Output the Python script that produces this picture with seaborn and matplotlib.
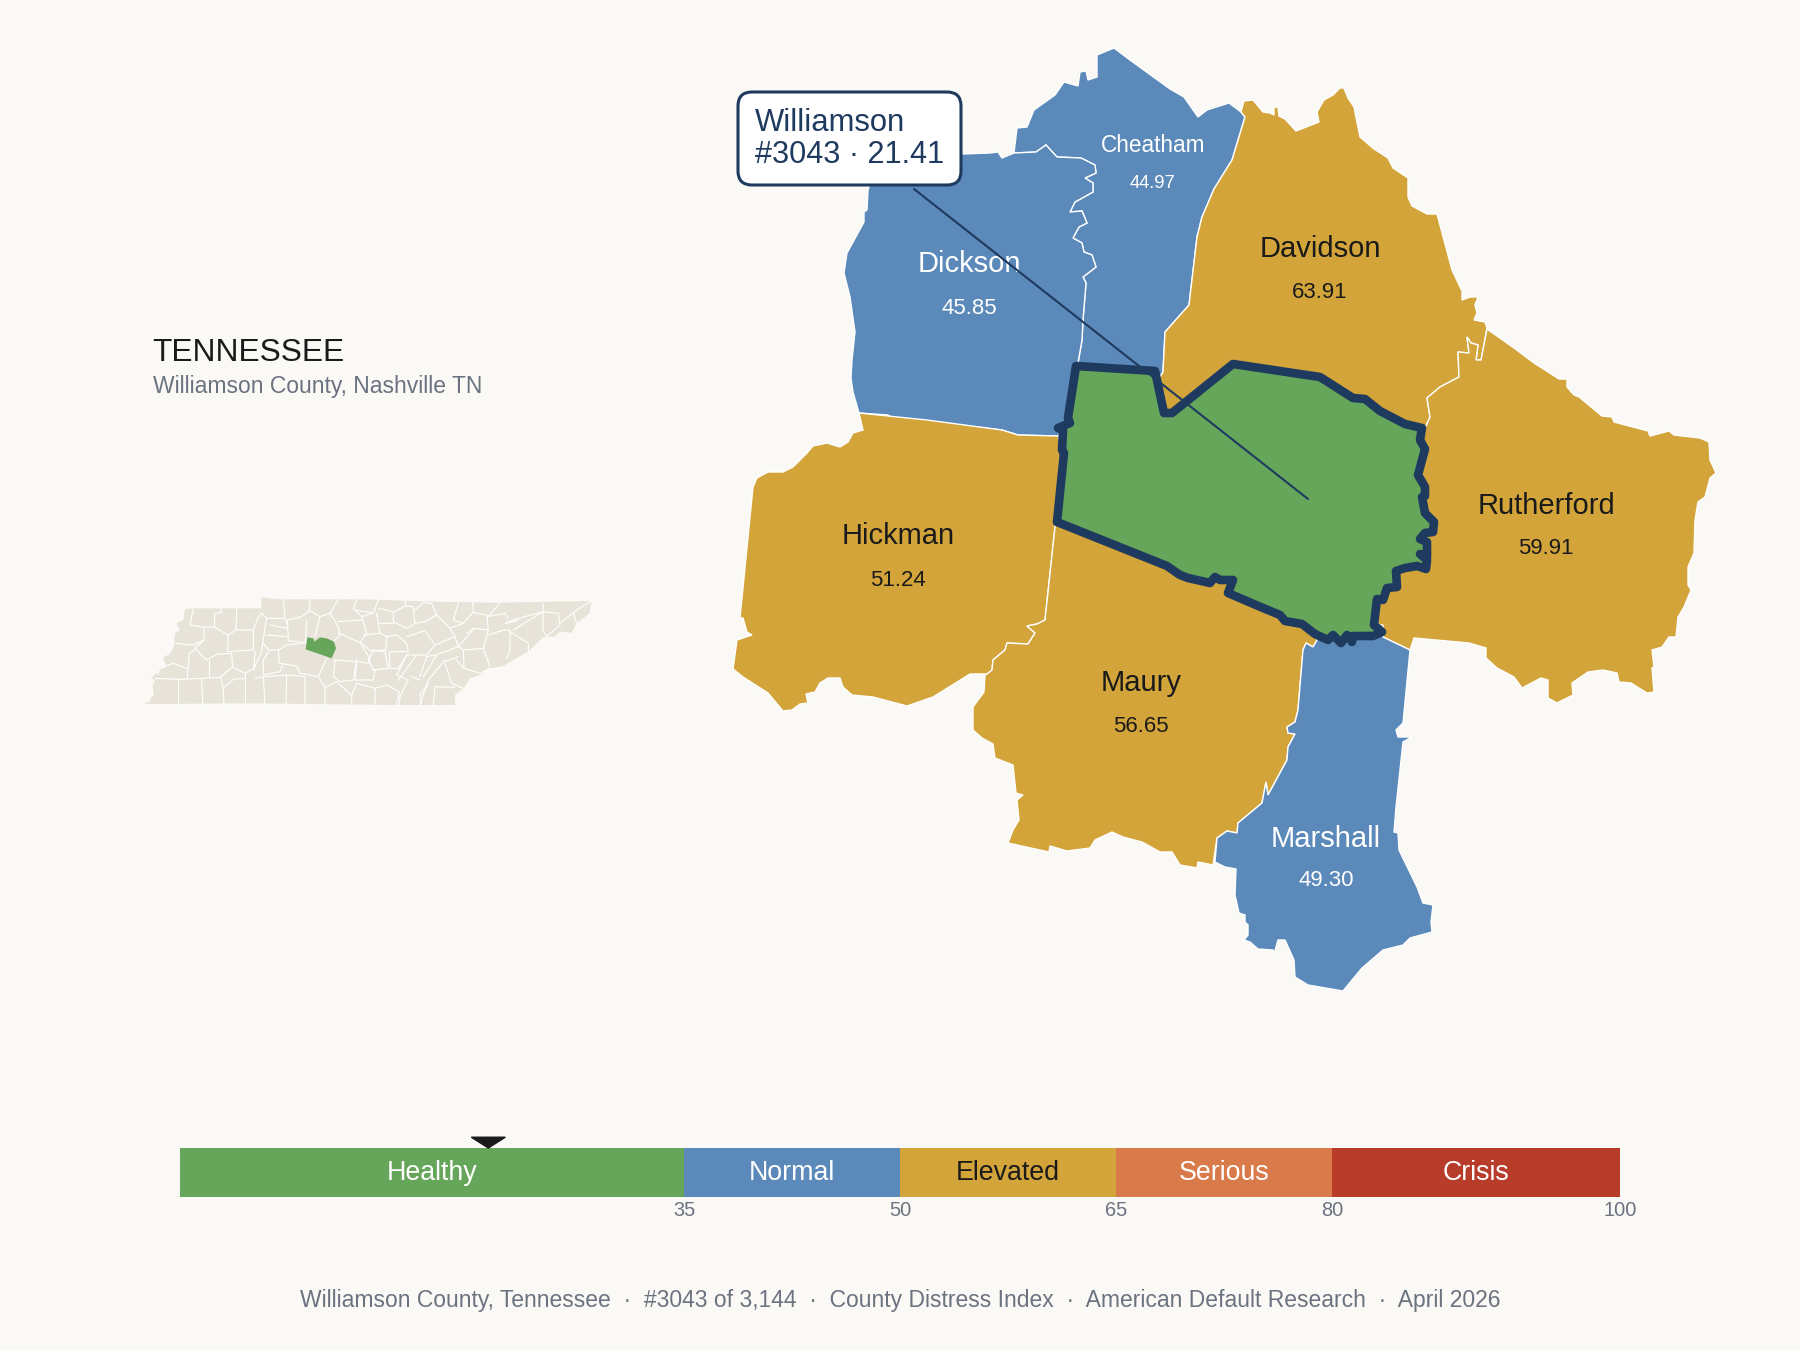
import matplotlib
matplotlib.use("Agg")
import matplotlib.pyplot as plt
from matplotlib.patches import FancyBboxPatch
import pandas as pd
import seaborn as sns

BG = "#FAF9F6"; NAVY = "#1E3A5F"; DARK = "#1A1A1A"; GRAY = "#6B7280"
GREEN = "#66A65A"; BLUE = "#5B89B9"; GOLD = "#D2A43A"; ORANGE = "#D97A4A"; RED = "#B83C2A"
LAND = "#E8E3D8"

sns.set_theme(style="white")
plt.rcParams["font.family"] = ["Liberation Sans", "DejaVu Sans"]

score = 21.41
county_names = ["Cheatham", "Dickson", "Davidson", "Hickman", "Rutherford", "Maury", "Marshall"]
county_values = [44.97, 45.85, 63.91, 51.24, 59.91, 56.65, 49.30]
county_colors = [BLUE, BLUE, GOLD, GOLD, GOLD, GOLD, BLUE]
band_names = ["Healthy", "Normal", "Elevated", "Serious", "Crisis"]
band_upper = [35, 50, 65, 80, 100]
band_colors = [GREEN, BLUE, GOLD, ORANGE, RED]
band_text = ["white", "white", DARK, "white", "white"]
band_ticks = [35, 50, 65, 80, 100]
footer = "Williamson County, Tennessee  ·  #3043 of 3,144  ·  County Distress Index  ·  American Default Research  ·  April 2026"

cheatham = [(1014,153),(1017,128),(1027,127),(1034,110),(1055,95),(1064,82),(1078,86),(1080,72),(1086,71),(1088,80),(1097,77),(1097,55),(1114,48),(1130,60),(1170,89),(1184,97),(1198,117),(1207,110),(1229,103),(1241,112),(1245,117),(1232,160),(1214,189),(1202,217),(1197,237),(1189,305),(1165,332),(1163,372),(1155,385),(1085,385),(1078,363),(1082,340),(1083,320),(1086,283),(1083,277),(1096,267),(1092,255),(1084,252),(1082,243),(1073,238),(1079,227),(1087,223),(1082,211),(1070,212),(1075,202),(1093,192),(1093,183),(1085,178),(1096,173),(1095,165),(1081,158),(1057,157),(1046,145),(1036,152)]
dickson = [(1014,153),(1002,158),(998,152),(990,153),(962,154),(880,150),(868,190),(867,210),(864,212),(864,222),(847,253),(844,273),(850,297),(855,332),(852,360),(851,378),(853,392),(859,413),(888,415),(891,417),(1002,430),(1018,435),(1058,436),(1085,385),(1078,363),(1082,340),(1083,320),(1086,283),(1083,277),(1096,267),(1092,255),(1084,252),(1082,243),(1073,238),(1079,227),(1087,223),(1082,211),(1070,212),(1075,202),(1093,192),(1093,183),(1085,178),(1096,173),(1095,165),(1081,158),(1057,157),(1046,145),(1036,152)]
davidson = [(1245,117),(1241,112),(1244,101),(1253,100),(1263,112),(1270,113),(1274,115),(1274,107),(1278,107),(1279,116),(1285,119),(1296,131),(1319,122),(1317,112),(1324,100),(1333,95),(1340,88),(1344,88),(1348,98),(1354,107),(1360,137),(1374,149),(1388,158),(1393,168),(1408,178),(1408,197),(1412,206),(1427,214),(1437,214),(1452,270),(1462,291),(1462,300),(1470,297),(1478,297),(1475,305),(1477,313),(1474,320),(1485,322),(1487,328),(1483,350),(1481,360),(1476,360),(1478,345),(1471,343),(1467,337),(1469,353),(1458,352),(1459,377),(1440,387),(1427,398),(1430,417),(1426,426),(1405,440),(1233,400),(1172,430),(1155,385),(1163,372),(1165,332),(1189,305),(1197,237),(1202,217),(1214,189),(1232,160)]
hickman = [(1058,436),(1018,435),(1002,430),(927,420),(859,413),(863,430),(853,433),(848,442),(840,447),(827,443),(813,446),(807,453),(793,467),(783,472),(768,472),(757,478),(753,487),(740,618),(743,618),(747,632),(752,635),(737,640),(733,669),(743,677),(768,693),(783,711),(792,710),(800,704),(808,703),(806,694),(815,692),(820,683),(828,678),(840,678),(843,687),(852,695),(873,697),(907,706),(933,697),(970,674),(987,674),(992,670),(993,660),(1005,650),(1007,643),(1028,644),(1035,633),(1027,626),(1037,624),(1045,620),(1055,527),(1075,500)]
rutherford = [(1487,329),(1514,348),(1534,363),(1559,379),(1567,379),(1567,387),(1574,395),(1579,397),(1602,416),(1612,417),(1614,422),(1648,431),(1650,436),(1669,431),(1674,435),(1700,438),(1709,442),(1710,460),(1716,473),(1710,478),(1705,497),(1698,502),(1695,520),(1694,553),(1688,567),(1688,585),(1691,590),(1684,607),(1678,617),(1676,637),(1669,637),(1662,647),(1652,650),(1654,667),(1652,668),(1654,692),(1647,693),(1631,683),(1619,682),(1617,673),(1603,670),(1588,672),(1572,683),(1573,695),(1557,703),(1548,698),(1548,680),(1541,678),(1522,688),(1514,677),(1497,668),(1486,658),(1486,648),(1469,643),(1414,638),(1410,650),(1383,637),(1370,600),(1400,500),(1405,440),(1426,426),(1430,417),(1427,398),(1440,387),(1459,377),(1458,352),(1469,353),(1467,337),(1471,343),(1478,345),(1476,360),(1481,360),(1483,350)]
maury = [(1057,522),(1100,500),(1300,560),(1320,630),(1317,640),(1313,647),(1306,643),(1303,650),(1298,710),(1295,722),(1287,727),(1288,733),(1295,734),(1288,747),(1287,760),(1268,795),(1266,782),(1262,803),(1238,823),(1237,833),(1227,831),(1217,838),(1213,865),(1198,862),(1197,868),(1180,865),(1172,852),(1160,852),(1142,842),(1123,837),(1112,832),(1095,840),(1090,848),(1067,851),(1050,846),(1049,852),(1008,843),(1013,830),(1019,820),(1017,800),(1023,795),(1016,793),(1013,765),(995,758),(993,744),(982,738),(973,730),(973,707),(984,692),(985,675),(987,674),(992,670),(993,660),(1005,650),(1007,643),(1028,644),(1035,633),(1027,626),(1037,624),(1045,620),(1055,527)]
marshall = [(1317,640),(1315,625),(1383,625),(1383,637),(1410,650),(1403,723),(1396,730),(1398,737),(1412,737),(1403,742),(1396,807),(1394,832),(1398,833),(1399,850),(1417,887),(1423,903),(1433,905),(1431,922),(1432,932),(1410,938),(1403,945),(1383,950),(1362,968),(1343,991),(1308,985),(1295,977),(1294,960),(1285,940),(1278,940),(1274,954),(1273,950),(1258,949),(1250,942),(1244,940),(1248,935),(1248,925),(1245,922),(1245,915),(1239,913),(1235,895),(1236,869),(1225,867),(1215,862),(1217,838),(1227,831),(1237,833),(1238,823),(1262,803),(1266,782),(1268,795),(1287,760),(1288,747),(1295,734),(1288,733),(1287,727),(1295,722),(1298,710),(1303,650),(1306,643),(1313,647)]
williamson = [(1076,366),(1155,371),(1164,413),(1172,413),(1233,364),(1320,377),(1353,398),(1365,399),(1380,411),(1405,424),(1422,428),(1420,440),(1425,449),(1418,475),(1425,487),(1425,496),(1422,497),(1425,513),(1434,522),(1433,532),(1425,533),(1420,539),(1427,542),(1427,557),(1420,554),(1427,560),(1426,569),(1417,566),(1405,568),(1396,571),(1397,587),(1387,588),(1383,600),(1377,599),(1374,625),(1382,632),(1373,636),(1353,636),(1352,642),(1347,635),(1341,643),(1333,635),(1328,640),(1315,634),(1302,624),(1285,621),(1280,615),(1263,608),(1228,593),(1233,580),(1220,580),(1215,577),(1210,583),(1188,578),(1180,575),(1167,566),(1057,522),(1064,453),(1062,450),(1063,430),(1058,428),(1070,423),(1068,418)]
county_shapes = [cheatham, dickson, davidson, hickman, rutherford, maury, marshall]

state_outline = [(45,370),(60,365),(65,350),(72,345),(68,320),(75,300),(65,295),(78,280),(85,285),(90,268),(108,262),(100,232),(120,222),(130,205),(135,160),(150,150),(140,130),(160,120),(165,88),(190,85),(395,85),(393,52),(420,55),(460,58),(700,58),(900,65),(1100,68),(1385,63),(1378,100),(1340,130),(1325,158),(1290,155),(1275,170),(1240,172),(1225,185),(1195,215),(1150,240),(1120,258),(1075,265),(1050,285),(1020,295),(1000,325),(975,345),(975,375),(800,375),(370,370),(45,372)]
state_highlight = [(532,172),(550,175),(553,185),(570,172),(590,175),(612,185),(618,205),(605,235),(585,228),(527,208)]
state_borders = [
 [(190,85),(180,135),(222,142),(250,140),(295,165),(293,215)],[(255,100),(253,140)],[(255,100),(275,98),(272,85)],
 [(320,85),(318,150),(295,165)],[(318,150),(370,150),(385,112),(395,100)],[(370,150),(370,210),(293,215)],
 [(222,142),(222,180),(195,205),(230,240),(262,222)],[(135,190),(190,195),(222,180)],[(195,210),(178,220),(172,295)],
 [(100,260),(130,250),(170,265)],[(75,295),(145,298),(215,295),(272,292)],[(145,298),(145,372)],[(215,295),(218,372)],
 [(272,292),(280,325),(282,372)],[(236,240),(236,288)],[(262,222),(305,220),(308,262),(345,280),(372,265),(375,212)],
 [(305,262),(272,292)],[(345,280),(345,370)],[(280,325),(310,298),(345,295)],[(375,295),(400,290),(405,372)],
 [(370,270),(395,215),(400,175),(410,115),(395,100)],[(410,115),(465,115),(470,130)],[(460,58),(465,115)],
 [(540,58),(538,92),(515,110),(472,120)],[(472,120),(475,182),(527,188)],[(530,120),(527,188)],[(420,135),(470,145)],
 [(410,165),(470,170)],[(400,190),(415,210),(445,210),(470,195),(527,188)],[(445,210),(448,250),(500,258)],
 [(415,215),(400,240),(400,285),(450,275),(460,250)],[(500,258),(510,280),(565,290),(590,235)],
 [(405,290),(470,285),(525,290),(525,372)],[(470,285),(468,372)],[(565,290),(585,322),(585,372)],
 [(585,322),(620,305),(665,345),(665,372)],[(665,345),(680,310),(735,325),(735,372)],[(735,325),(770,315),(808,335),(800,375)],
 [(615,240),(610,290),(630,305),(670,300),(680,240)],[(615,240),(680,245),(720,250)],[(680,245),(675,300),(730,300),(735,270)],
 [(720,250),(716,230),(690,188),(625,158)],[(690,188),(710,160),(695,110),(670,85),(680,58)],
 [(625,58),(600,100),(570,110),(555,170)],[(600,100),(625,140),(630,165),(610,185)],[(625,125),(695,120)],[(540,92),(570,110)],
 [(695,110),(730,98),(745,60)],[(672,90),(730,98)],[(745,85),(790,95),(790,130),(745,130),(740,100)],
 [(745,135),(750,160),(700,165)],[(790,125),(830,145),(855,130),(850,80),(825,78),(795,95)],[(825,60),(825,78)],
 [(855,90),(880,68),(905,70),(920,105),(885,125),(855,130)],[(750,160),(770,170),(768,210),(720,212),(695,190)],
 [(770,170),(800,165),(830,190),(835,215),(780,215)],[(715,240),(730,212),(765,215),(775,265),(730,270),(715,240)],
 [(778,218),(780,265),(805,265),(830,225)],[(830,225),(890,225),(915,195),(885,152),(830,170)],
 [(885,125),(920,105),(960,145),(975,170),(915,195)],[(960,145),(1000,130),(1030,95),(1028,68)],[(985,68),(970,120),(1000,130)],
 [(1030,98),(1070,105),(1075,150),(1030,145),(1010,160)],[(1075,110),(1110,68)],[(1070,110),(1125,100),(1135,115)],
 [(975,170),(985,200),(915,225),(890,230)],[(1030,148),(985,200),(1000,210),(1060,205),(1075,150)],
 [(1000,210),(1002,265),(1050,280),(1080,265)],[(1060,205),(1080,260)],[(1075,165),(1120,150),(1140,150),(1140,210),(1130,235)],
 [(1140,155),(1195,190),(1195,215)],[(1125,130),(1165,115),(1240,95)],[(1150,150),(1215,110),(1240,95)],
 [(1240,70),(1238,150),(1250,170)],[(1238,95),(1285,100),(1290,135),(1250,170)],[(1290,130),(1340,90),(1385,63)],
 [(1330,100),(1340,130)],[(830,225),(800,285),(835,300)],[(860,225),(805,300)],[(945,240),(895,300),(870,375)],
 [(895,310),(870,345),(875,372)],[(915,320),(910,375)],[(915,320),(975,322)],[(945,250),(965,310),(1000,325)],
 [(890,230),(870,290)],[(920,225),(880,290)],[(835,300),(810,350),(808,375)],[(845,290),(870,300)],
 [(1130,130),(1165,120)],[(985,230),(945,245)],[(1000,265),(980,240)],
]

W, H = 1800, 1350
fig = plt.figure(figsize=(18, 13.5), dpi=100, facecolor=BG)

# main map, in picture pixels
ax = fig.add_axes([0, 0, 1, 1]); ax.set_xlim(0, W); ax.set_ylim(H, 0); ax.axis("off")
for shape, color in zip(county_shapes, county_colors):
    xs, ys = zip(*shape)
    ax.fill(xs, ys, facecolor=color, edgecolor="white", linewidth=1.0, zorder=2)
xs, ys = zip(*williamson)
ax.fill(xs, ys, facecolor=GREEN, edgecolor=NAVY, linewidth=6.2, joinstyle="round", zorder=3)

label_pos = {"Cheatham": (1153, 145, 184, 16.3, 13.2), "Dickson": (969, 264, 308, 21, 16),
             "Davidson": (1320, 249, 292, 21, 16), "Hickman": (898, 536, 581, 21, 16),
             "Rutherford": (1546, 506, 549, 21, 16), "Maury": (1141, 683, 726, 21, 16),
             "Marshall": (1326, 839, 881, 21, 16)}
for name, val, col in zip(county_names, county_values, county_colors):
    x, y1, y2, s1, s2 = label_pos[name]
    tc = "white" if col == BLUE else DARK
    ax.text(x, y1, name, ha="center", va="center", fontsize=s1, color=tc, zorder=4)
    ax.text(x, y2, f"{val:.2f}", ha="center", va="center", fontsize=s2, color=tc, zorder=4)

ax.plot([914, 1308], [189, 499], color=NAVY, lw=1.5, zorder=5)
ax.add_patch(FancyBboxPatch((738, 92), 223, 93, boxstyle="round,pad=0,rounding_size=14",
                            facecolor="white", edgecolor=NAVY, linewidth=2.2, zorder=6))
ax.text(755, 123, "Williamson", ha="left", va="center", fontsize=22.3, color=NAVY, zorder=7)
ax.text(755, 155, f"#3043 · {score:.2f}", ha="left", va="center", fontsize=22.1, color=NAVY, zorder=7)

ax.text(152, 353, "TENNESSEE", ha="left", va="center", fontsize=22.8, color=DARK)
ax.text(153, 387, "Williamson County, Nashville TN", ha="left", va="center", fontsize=16.5, color=GRAY)
ax.text(900, 1301, footer, ha="center", va="center", fontsize=16.45, color=GRAY)

# locator map
mini = fig.add_axes([130/W, 1-(580+140)/H, 480/W, 140/H]); mini.set_xlim(0, 1440); mini.set_ylim(420, 0); mini.axis("off")
xs, ys = zip(*state_outline)
mini.fill(xs, ys, facecolor=LAND, edgecolor="none", zorder=1)
for line in state_borders:
    xs, ys = zip(*line)
    mini.plot(xs, ys, color="white", lw=0.8, zorder=2, solid_joinstyle="round")
xs, ys = zip(*state_highlight)
mini.fill(xs, ys, facecolor=GREEN, edgecolor="none", zorder=3)

# index scale, drawn as overlaid bars from 0 to each band's upper limit
bar = fig.add_axes([180/W, 1-1197/H, 1440/W, 49/H]); bar.set_facecolor("none")
scale = pd.DataFrame({"band": band_names, "upper": band_upper, "row": ["index"] * len(band_names)})
sns.barplot(data=scale, x="upper", y="row", hue="band", hue_order=band_names[::-1],
            palette=dict(zip(band_names, band_colors)), dodge=False, width=1, legend=False, ax=bar,
            saturation=1, linewidth=0)
bar.set_xlim(0, 100); bar.set_ylim(0.5, -0.5)
bar.set_xlabel(""); bar.set_ylabel(""); bar.set_yticks([])
bar.set_xticks(band_ticks); bar.set_xticklabels([str(t) for t in band_ticks])
bar.tick_params(axis="x", length=0, labelsize=14.4, labelcolor=GRAY, pad=3)
sns.despine(ax=bar, left=True, bottom=True)
lower = [0] + band_upper[:-1]
for name, lo, hi, tc in zip(band_names, lower, band_upper, band_text):
    bar.text((lo + hi) / 2, 0, name, ha="center", va="center", fontsize=19.3, color=tc)
bar.fill([score - 1.18, score + 1.18, score], [-0.72, -0.72, -0.5], color=DARK, clip_on=False, zorder=5)

fig.savefig("out.png", dpi=100, facecolor=BG)
